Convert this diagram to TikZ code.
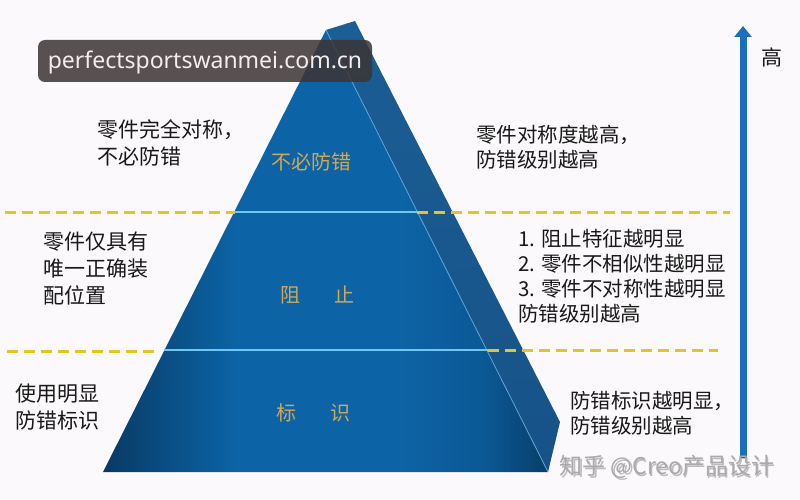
\documentclass[tikz,border=0pt]{standalone}
\usepackage{fontspec}
\newfontfamily\cjk{Noto Sans CJK SC}
\newfontfamily\wmfont{Noto Sans}
\usetikzlibrary{arrows.meta}
\definecolor{bgc}{RGB}{251,249,251}
\definecolor{faceL}{RGB}{8,58,100}
\definecolor{faceM}{RGB}{12,100,166}
\definecolor{faceN}{RGB}{11,88,148}
\definecolor{faceR}{RGB}{9,62,106}
\definecolor{sideC}{RGB}{27,94,148}
\definecolor{sideD}{RGB}{22,82,135}
\definecolor{edgeC}{RGB}{95,165,215}
\definecolor{cyanl}{RGB}{110,200,240}
\definecolor{dashY}{RGB}{232,196,30}
\definecolor{goldT}{RGB}{210,168,80}
\definecolor{arrowB}{RGB}{25,110,190}
\definecolor{txt}{RGB}{25,25,25}
\definecolor{wmbox}{RGB}{60,52,52}
\definecolor{wmtext}{RGB}{245,236,236}
\definecolor{zhihu}{RGB}{170,170,170}
\pgfdeclarehorizontalshading{frontshade}{100bp}{color(0bp)=(faceL); color(25bp)=(faceL); color(40bp)=(faceM); color(58bp)=(faceM); color(68bp)=(faceN); color(75bp)=(faceR); color(100bp)=(faceR)}
\tikzset{
  blocktext/.style={anchor=north west, inner sep=0pt, align=left, text=txt},
  lefttext/.style={blocktext, font=\cjk\fontsize{21}{27}\selectfont},
  righttext/.style={blocktext, font=\cjk\fontsize{20.5}{25}\selectfont},
  pyrlabel/.style={inner sep=0pt, text=goldT, font=\cjk\fontsize{20}{24}\selectfont},
  ydash/.style={draw=dashY, line width=3pt, dash pattern=on 11pt off 6pt},
  cline/.style={draw=cyanl, line width=2.5pt},
}
\begin{document}
\begin{tikzpicture}[x=1pt,y=-1pt]
\fill[bgc] (0,0) rectangle (800,500);
\useasboundingbox (0,0) rectangle (800,500);
% pyramid corners
\coordinate (apexL) at (326,30);
\coordinate (apexR) at (355,21);
\coordinate (baseL) at (103,472);
\coordinate (baseR) at (548,472);
\coordinate (sideR) at (560,422);
% side face
\shade[top color=sideC, bottom color=sideD] (apexL) -- (apexR) -- (sideR) -- (baseR) -- cycle;
% front face
\shade[shading=frontshade] (apexL) -- (baseL) -- (baseR) -- cycle;
\draw[edgeC, line width=0.8pt] (apexL) -- (baseR);
% level lines
\coordinate (a1) at (235,212);
\coordinate (b1) at (417,212);
\coordinate (a2) at (164,350);
\coordinate (b2) at (488,350);
\draw[cline] (a1) -- (b1);
\draw[cline] (a2) -- (b2);
% dashed lines
\coordinate (d1l) at (5,212);
\coordinate (d1r) at (730,212);
\coordinate (d2l) at (7,351);
\coordinate (d2e) at (157,351);
\coordinate (d2r) at (718,350);
\draw[ydash] (d1l) -- (a1);
\draw[ydash] (b1) -- (d1r);
\draw[ydash] (d2l) -- (d2e);
\draw[ydash] (b2) -- (d2r);
% pyramid labels
\node[pyrlabel] (p1) at (311,162) {不必防错};
\node[pyrlabel] (p2) at (317,295) {阻\hspace{34pt}止};
\node[pyrlabel] (p3) at (313,413) {标\hspace{34pt}识};
% left texts
\node[lefttext] (t1) at (97,119) {零件完全对称，\\不必防错};
\node[lefttext] (t2) at (43,232) {零件仅具有\\唯一正确装\\配位置};
\node[lefttext] (t3) at (15,384) {使用明显\\防错标识};
% right texts
\node[righttext] (r1) at (476,125) {零件对称度越高，\\防错级别越高};
\node[righttext] (r2) at (518,229) {1. 阻止特征越明显\\2. 零件不相似性越明显\\3. 零件不对称性越明显\\防错级别越高};
\node[righttext] (r3) at (570,391) {防错标识越明显，\\防错级别越高};
% arrow
\coordinate (arB) at (743,458);
\coordinate (arT) at (743,26);
\draw[arrowB, line width=7pt, -{Triangle[length=11pt,width=17pt]}] (arB) -- (arT);
\node[inner sep=0pt, text=txt, font=\cjk\fontsize{21}{24}\selectfont] (hi) at (772,57) {高};
% watermark box
\fill[wmbox, opacity=0.85, rounded corners=7pt] (38,40) rectangle (372,82);
\node[inner sep=0pt, text=wmtext, font=\wmfont\fontsize{23}{26}\selectfont] (wm) at (205,62) {perfectsportswanmei.com.cn};
% zhihu watermark
\node[inner sep=0pt, text=gray!40!black, opacity=0.3, font=\cjk\fontsize{23}{26}\selectfont] (zs) at (668.5,468.5) {知乎 @Creo产品设计};
\node[inner sep=0pt, text=zhihu, font=\cjk\fontsize{23}{26}\selectfont] (zh) at (667,467) {知乎 @Creo产品设计};
\end{tikzpicture}
\end{document}
